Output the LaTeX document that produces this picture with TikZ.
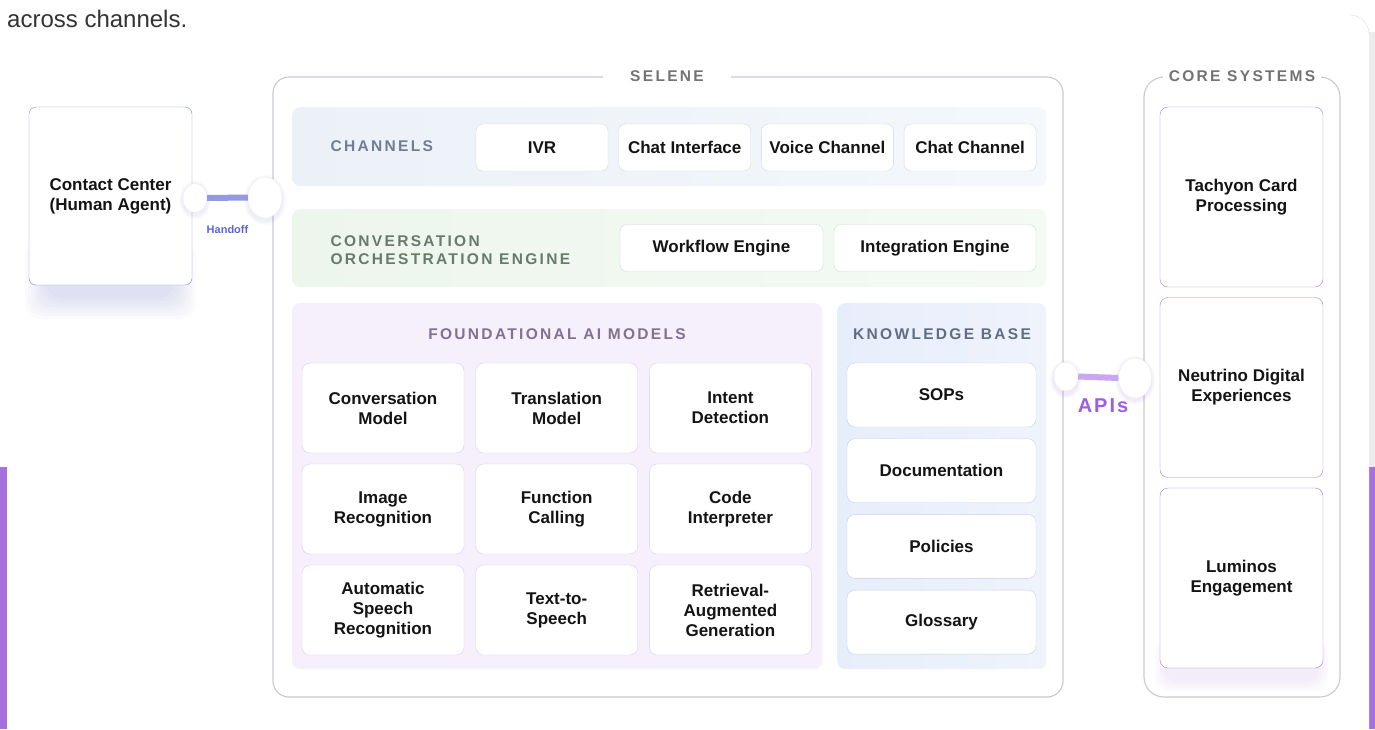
\documentclass[tikz,border=0pt]{standalone}
\usepackage{fontspec}
\setmainfont{Liberation Sans}
\newfontfamily\headfont[LetterSpace=15, UprightFont={* Bold}, BoldFont={* Bold}]{Liberation Sans}
\newfontfamily\apifont[LetterSpace=10]{Liberation Sans}
\usetikzlibrary{positioning,shapes.geometric}

\definecolor{bgpurple}{HTML}{A56FE0}
\definecolor{scrollgray}{HTML}{ECECEC}
\definecolor{introgray}{HTML}{333333}
\definecolor{framegray}{HTML}{C9C9D2}
\definecolor{titlegray}{HTML}{737373}
\definecolor{ccblue}{HTML}{8088D8}
\definecolor{handoffblue}{HTML}{5B66D6}
\definecolor{chanfill}{HTML}{ECF1F8}
\definecolor{chanhead}{HTML}{717D93}
\definecolor{chanline}{HTML}{D3D8E3}
\definecolor{orchfill}{HTML}{EDF6ED}
\definecolor{orchhead}{HTML}{6A7A6A}
\definecolor{orchline}{HTML}{CFDDCF}
\definecolor{aifill}{HTML}{F5F0FB}
\definecolor{aihead}{HTML}{7F7390}
\definecolor{ailine}{HTML}{DCCDF0}
\definecolor{kbfill}{HTML}{E7EEFB}
\definecolor{kbhead}{HTML}{636D7E}
\definecolor{kbline}{HTML}{C8CCF2}
\definecolor{coreline}{HTML}{A67CE0}
\definecolor{apipurple}{HTML}{9B5DE5}

\tikzset{
  boxtxt/.style={font=\bfseries\fontsize{17}{20}\selectfont, text=black!92, align=center},
  headtxt/.style={font=\headfont\fontsize{15.5}{18}\selectfont},
  band/.style={rectangle, rounded corners=8, anchor=north west, inner sep=0pt},
  chanbox/.style={boxtxt, draw=chanline, fill=white, rounded corners=7,
    minimum width=132, minimum height=47, inner sep=0pt},
  orchbox/.style={chanbox, draw=orchline, minimum width=203},
  aibox/.style={boxtxt, draw=ailine, fill=white, rounded corners=8,
    minimum width=162, minimum height=90, inner sep=0pt},
  kbbox/.style={boxtxt, draw=kbline, fill=white, rounded corners=8,
    minimum width=189, minimum height=64, inner sep=0pt},
  corebox/.style={boxtxt, draw=coreline, fill=white, rounded corners=8,
    minimum width=163, minimum height=180, inner sep=0pt},
  knob/.style={ellipse, fill=white, draw=black!7, inner sep=0pt},
}

\begin{document}
\begin{tikzpicture}[x=1pt, y=-1pt]
  \useasboundingbox (0,0) rectangle (1375,729);
  % page behind the card
  \fill[white] (0,0) rectangle (1375,729);
  \fill[bgpurple] (0,467) rectangle (1375,729);
  \fill[scrollgray] (1369,32) rectangle (1375,467);
  \fill[white, rounded corners=18] (7,15) rectangle (1369,748);
  \draw[black!12] (1350,15) to[out=0, in=90] (1369,34);

  \node[anchor=base west, font=\fontsize{24}{28}\selectfont, text=introgray, inner sep=0pt]
    (intro) at (7,27) {across channels.};

  % contact center
  \foreach \k in {1,...,8}
    \fill[ccblue, opacity=0.03, rounded corners=16] ({22+3*\k},240) rectangle ({199-3*\k},{322-3*\k});
  \node[boxtxt, draw=ccblue, fill=white, rounded corners=7, minimum width=163,
    minimum height=178, inner sep=0pt] (cc) at (110.5,196) {Contact Center\\(Human Agent)};

  % selene frame
  \draw[framegray, line width=1.1pt, rounded corners=16] (273,77) rectangle (1063,697);
  \node[headtxt, text=titlegray, fill=white, inner xsep=27pt] (selene) at (667,76) {SELENE};

  % channels
  \node[band, left color=chanfill, right color=chanfill!55!white, minimum width=754,
    minimum height=79] (chan) at (292,107) {};
  \node[headtxt, text=chanhead, anchor=west] (chanlbl) at (327,146) {CHANNELS};
  \foreach \t [count=\i from 0] in {IVR, Chat Interface, Voice Channel, Chat Channel}
    \node[chanbox] (ch\i) at ({542+\i*142.7},147.5) {\t};

  % orchestration
  \node[band, left color=orchfill, right color=orchfill!60!white, minimum width=754,
    minimum height=78] (orch) at (292,209) {};
  \node[headtxt, text=orchhead, anchor=west, align=left]
    (orchlbl) at (327,250) {CONVERSATION\\ORCHESTRATION ENGINE};
  \node[orchbox] (wf) at (721.5,248) {Workflow Engine};
  \node[orchbox, minimum width=202] (ie) at (935,248) {Integration Engine};

  % foundational models
  \node[band, fill=aifill, minimum width=530, minimum height=366] (ai) at (292,303) {};
  \node[headtxt, text=aihead] (ailbl) at (557,334) {FOUNDATIONAL AI MODELS};
  \foreach \t [count=\i from 0] in {{Conversation\\Model}, {Translation\\Model}, {Intent\\Detection},
      {Image\\Recognition}, {Function\\Calling}, {Code\\Interpreter},
      {Automatic\\Speech\\Recognition}, {Text-to-\\Speech}, {Retrieval-\\Augmented\\Generation}}
    {
      \pgfmathtruncatemacro\r{int(\i/3)}
      \pgfmathtruncatemacro\c{mod(\i,3)}
      \node[aibox] (m\i) at ({383+\c*173.7},{408+\r*101}) {\t};
    }

  % knowledge base
  \node[band, left color=kbfill, right color=kbfill!70!white, minimum width=209,
    minimum height=366] (kb) at (837,303) {};
  \node[headtxt, text=kbhead] (kblbl) at (942,334) {KNOWLEDGE BASE};
  \foreach \t [count=\i from 0] in {SOPs, Documentation, Policies, Glossary}
    \node[kbbox] (kb\i) at (941.5,{395+\i*75.7}) {\t};

  % core systems
  \foreach \k in {1,...,6}
    \fill[coreline, opacity=0.02, rounded corners=14] ({1152+2*\k},640) rectangle ({1331-2*\k},{694-2*\k});
  \draw[framegray, line width=1.1pt, rounded corners=20] (1144,77) rectangle (1340,697);
  \node[headtxt, text=titlegray, fill=white, inner xsep=6pt] (core) at (1242,76) {CORE SYSTEMS};
  \node[corebox] (tcp) at (1241.5,197) {Tachyon Card\\Processing};
  \node[corebox] (nde) at (1241.5,387.5) {Neutrino Digital\\Experiences};
  \node[corebox] (lum) at (1241.5,578) {Luminos\\Engagement};

  % handoff link
  \foreach \k in {1,...,4}
    {
      \fill[ccblue, opacity=0.03] (195,200) ellipse ({12+\k} and {15+\k});
      \fill[ccblue, opacity=0.03] (265,200) ellipse ({17+\k} and {21+\k});
    }
  \node[knob, minimum width=24, minimum height=29] (hs) at (195,198) {};
  \node[knob, minimum width=34, minimum height=41] (hb) at (265,197.5) {};
  \draw[ccblue!85, line width=6pt] (hs.east) -- (hb.west);
  \node[font=\bfseries\fontsize{11}{13}\selectfont, text=handoffblue] (hlbl) at (227.5,229.5) {Handoff};

  % api link
  \foreach \k in {1,...,4}
    {
      \fill[apipurple, opacity=0.03] (1066,379) ellipse ({12+\k} and {15+\k});
      \fill[apipurple, opacity=0.03] (1135,380) ellipse ({16+\k} and {20+\k});
    }
  \node[knob, minimum width=24, minimum height=29] (as) at (1066,376.5) {};
  \node[knob, minimum width=33, minimum height=40] (ab) at (1135,378) {};
  \draw[apipurple!55, line width=6pt] (as.east) -- (ab.west);
  \node[font=\apifont\bfseries\fontsize{20}{24}\selectfont, text=apipurple] (albl) at (1103,406) {APIs};
\end{tikzpicture}
\end{document}
